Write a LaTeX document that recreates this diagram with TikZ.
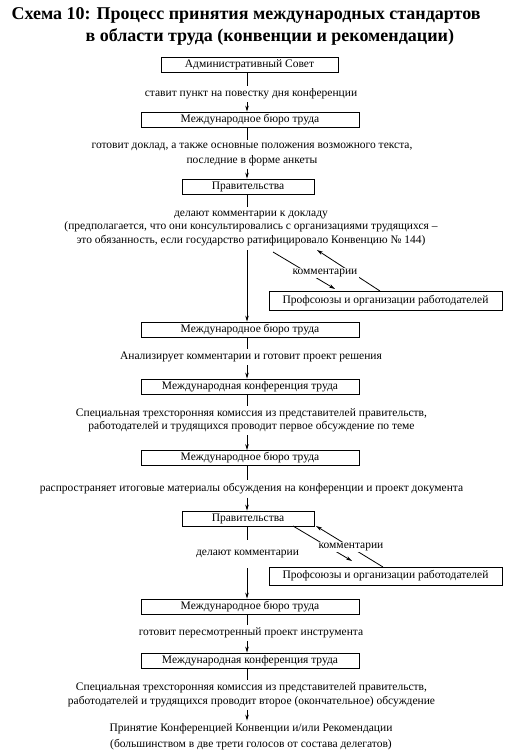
\documentclass[tikz,border=0pt]{standalone}
\usepackage{fontspec}
\setmainfont{Liberation Serif}
\usetikzlibrary{arrows.meta}
\begin{document}
\begin{tikzpicture}[x=1pt,y=-1pt,
  every node/.style={font=\fontsize{11.5}{13.5}\selectfont, align=center},
  box/.style={draw, line width=0.8pt, inner sep=0pt, minimum height=15pt},
  lbl/.style={inner xsep=2pt, inner ysep=3pt},
  conn/.style={line width=0.8pt},
  arr/.style={line width=0.8pt, -{Stealth[length=6pt,width=3.5pt]}},
  cmt/.style={fill=white, inner sep=1.5pt}
]
\useasboundingbox (0,0) rectangle (510,753);
\coordinate (ax) at (247,0);
% title
\node[anchor=west, font=\fontsize{18}{20}\bfseries] (title1) at (8,15) {Схема 10: Процесс принятия международных стандартов};
\node[anchor=west, font=\fontsize{18}{20}\bfseries] (title2) at (82,37) {в области труда (конвенции и рекомендации)};
% boxes
\node[box, minimum width=177pt] (b1) at (249.5,65) {Административный Совет};
\node[box, minimum width=218pt] (b2) at (250,119.5) {Международное бюро труда};
\node[box, minimum width=132pt] (b3) at (248,186.5) {Правительства};
\node[box, minimum width=233pt, minimum height=19pt] (p1) at (385.5,300.5) {Профсоюзы и организации работодателей};
\node[box, minimum width=218pt] (b4) at (250,329.5) {Международное бюро труда};
\node[box, minimum width=218pt] (b5) at (250,386.5) {Международная конференция труда};
\node[box, minimum width=218pt] (b6) at (250,458) {Международное бюро труда};
\node[box, minimum width=132pt] (b7) at (248,518.5) {Правительства};
\node[box, minimum width=233pt, minimum height=18pt] (p2) at (385.5,576) {Профсоюзы и организации работодателей};
\node[box, minimum width=218pt] (b8) at (250,606.5) {Международное бюро труда};
\node[box, minimum width=218pt] (b9) at (250,660.5) {Международная конференция труда};
% labels
\node[lbl] (t1) at (251,94) {ставит пункт на повестку дня конференции};
\node[lbl, font=\fontsize{11.5}{15}\selectfont] (t2) at (252,154.5) {готовит доклад, а также основные положения возможного текста,\\последние в форме анкеты};
\node[lbl, inner ysep=4pt] (t3) at (251,228.5) {делают комментарии к докладу\\(предполагается, что они консультировались с организациями трудящихся –\\это обязанность, если государство ратифицировало Конвенцию № 144)};
\node[lbl] (t4) at (251,357) {Анализирует комментарии и готовит проект решения};
\node[lbl, font=\fontsize{11.5}{13}\selectfont] (t5) at (251.5,420.5) {Специальная трехсторонняя комиссия из представителей правительств,\\работодателей и трудящихся проводит первое обсуждение по теме};
\node[lbl] (t6) at (251.5,489) {распространяет итоговые материалы обсуждения на конференции и проект документа};
\node[lbl, inner ysep=10pt] (t7) at (247.5,554) {делают комментарии};
\node[lbl] (t8) at (251,633) {готовит пересмотренный проект инструмента};
\node[lbl, font=\fontsize{11.5}{14}\selectfont] (t9) at (251.5,695) {Специальная трехсторонняя комиссия из представителей правительств,\\работодателей и трудящихся проводит второе (окончательное) обсуждение};
\node[lbl, font=\fontsize{11.5}{16}\selectfont] (t10) at (251,737) {Принятие Конференцией Конвенции и/или Рекомендации\\(большинством в две трети голосов от состава делегатов)};
% main flow
\draw[conn] (b1.south -| ax) -- (t1.north -| ax);
\draw[arr] (t1.south -| ax) -- (b2.north -| ax);
\draw[conn] (b2.south -| ax) -- (t2.north -| ax);
\draw[arr] (t2.south -| ax) -- (b3.north -| ax);
\draw[conn] (b3.south -| ax) -- (t3.north -| ax);
\draw[arr] (t3.south -| ax) -- (b4.north -| ax);
\draw[conn] (b4.south -| ax) -- (t4.north -| ax);
\draw[arr] (t4.south -| ax) -- (b5.north -| ax);
\draw[conn] (b5.south -| ax) -- (t5.north -| ax);
\draw[arr] (t5.south -| ax) -- (b6.north -| ax);
\draw[conn] (b6.south -| ax) -- (t6.north -| ax);
\draw[arr] (t6.south -| ax) -- (b7.north -| ax);
\draw[conn] (b7.south -| ax) -- (t7.north -| ax);
\draw[arr] (t7.south -| ax) -- (b8.north -| ax);
\draw[conn] (b8.south -| ax) -- (t8.north -| ax);
\draw[arr] (t8.south -| ax) -- (b9.north -| ax);
\draw[conn] (b9.south -| ax) -- (t9.north -| ax);
\draw[arr] (t9.south -| ax) -- (t10.north -| ax);
% comments, first pair
\coordinate (c1s) at (273,252);
\coordinate (c1e) at (335,289);
\coordinate (c2s) at (380,291);
\coordinate (c2e) at (317,250);
\draw[arr] (c1s) -- (c1e);
\draw[arr] (c2s) -- (c2e);
\node[cmt] (k1) at (325,273) {комментарии};
% comments, second pair
\coordinate (d1s) at (293,526);
\coordinate (d1e) at (352,561);
\coordinate (d2s) at (383,567);
\coordinate (d2e) at (316,526);
\draw[arr] (d1s) -- (d1e);
\draw[arr] (d2s) -- (d2e);
\node[cmt] (k2) at (351,547) {комментарии};
\end{tikzpicture}
\end{document}
